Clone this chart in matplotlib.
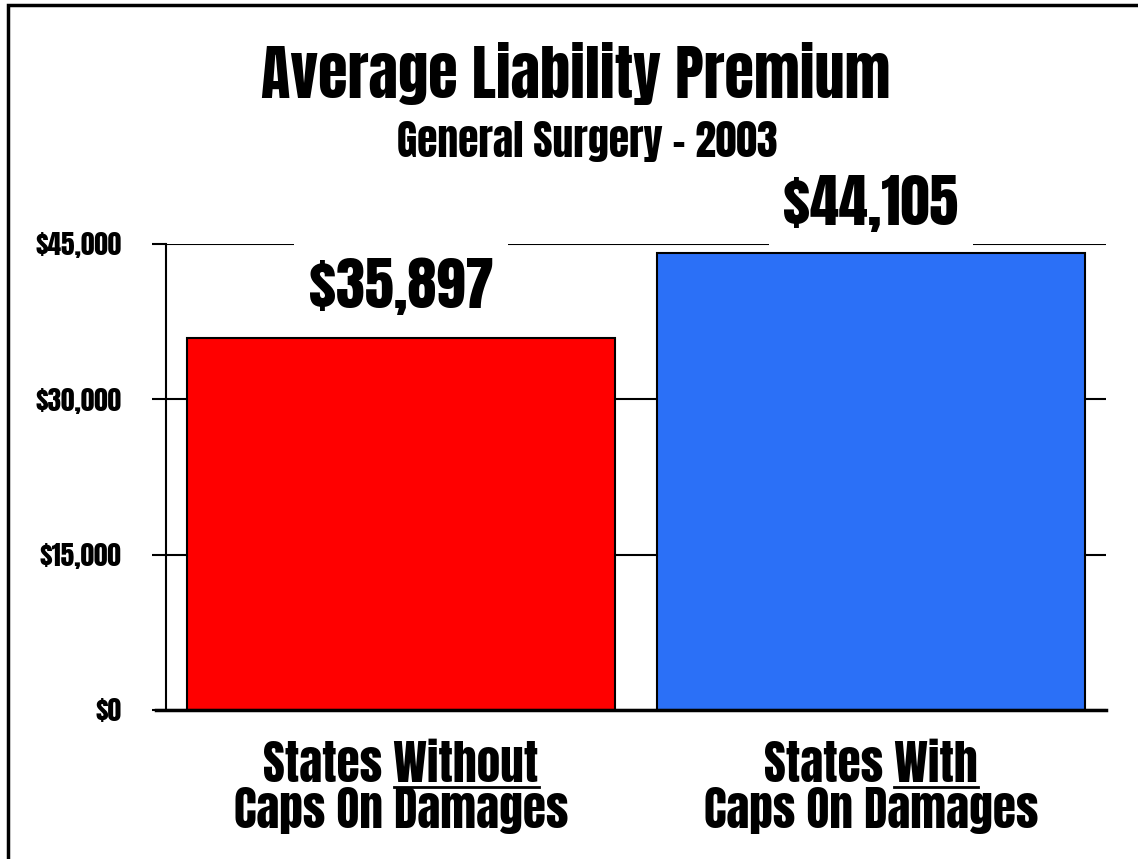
import matplotlib
matplotlib.use("Agg")
import matplotlib.pyplot as plt
from matplotlib.lines import Line2D
from matplotlib.patches import Rectangle
from matplotlib.transforms import blended_transform_factory

# Data
line_one = ["States Without", "States With"]
underlined = ["Without", "With"]
line_two = ["Caps On Damages", "Caps On Damages"]
premiums = [35897, 44105]
bar_colors = ["#ff0000", "#2b70f7"]
y_ticks = [0, 15000, 30000, 45000]
y_tick_labels = ["$0", "$15,000", "$30,000", "$45,000"]

font = ["Anton", "Oswald", "Liberation Sans", "DejaVu Sans"]
W, H = 1138, 859
cat_size = 34

fig = plt.figure(figsize=(W / 100, H / 100), dpi=100)
fig.patch.set_facecolor("white")

# Outer frame (only left and top edges sit inside the canvas)
fig.patches.append(Rectangle((8 / W, -0.2), 1.2, (H - 5) / H + 0.2,
                             transform=fig.transFigure, fill=False,
                             edgecolor="black", linewidth=2.5))

ax = fig.add_axes([166 / W, (H - 710) / H, 940 / W, 466 / H])
x = [0, 1]
ax.bar(x, premiums, width=0.91, color=bar_colors, edgecolor="black",
       linewidth=1.5, zorder=2)
ax.set_xlim(-0.5, 1.5)
ax.set_ylim(0, 45000)
ax.set_yticks(y_ticks, y_tick_labels, fontsize=19.5, family=font)
ax.tick_params(axis="y", length=10, width=1.5, pad=22)
ax.set_xticks([])
ax.yaxis.grid(True, color="black", linewidth=1.5)
ax.set_axisbelow(True)
for side in ["top", "right"]:
    ax.spines[side].set_visible(False)
ax.spines["left"].set_linewidth(1.5)
ax.spines["bottom"].set_linewidth(2.5)
ax.spines["bottom"].set_bounds(-0.5 - 10 / 470, 1.5)
ax.spines["bottom"].set_clip_on(False)

# Value labels on white boxes that cut the top grid line
label_base = [38820, 46835]
for xi, v, ly in zip(x, premiums, label_base):
    ax.text(xi, ly, f"${v:,}", ha="center", va="baseline", fontsize=42,
            family=font, zorder=1.5, clip_on=False,
            bbox=dict(boxstyle="square,pad=0.25", facecolor="white",
                      edgecolor="none"))

# Titles
fig.text(576 / W, 1 - 98 / H, "Average Liability Premium", ha="center",
         va="baseline", fontsize=43.5, family=font)
fig.text(587 / W, 1 - 157 / H, "General Surgery - 2003", ha="center",
         va="baseline", fontsize=30, family=font)

# Category labels, with one word underlined on the first line
mixed = blended_transform_factory(ax.transData, fig.transFigure)
first_lines = []
for xi, l1, l2 in zip(x, line_one, line_two):
    t1 = ax.text(xi, 1 - 782 / H, l1, transform=mixed, ha="center",
                 va="baseline", fontsize=cat_size, family=font)
    ax.text(xi, 1 - 828 / H, l2, transform=mixed, ha="center",
            va="baseline", fontsize=cat_size, family=font)
    first_lines.append(t1)

fig.canvas.draw()
renderer = fig.canvas.get_renderer()
for t1, word in zip(first_lines, underlined):
    full = t1.get_window_extent(renderer)
    probe = fig.text(0, 0, word, fontsize=cat_size, family=font)
    w = probe.get_window_extent(renderer).width
    probe.remove()
    x0 = (full.x1 - w) / fig.bbox.width
    x1 = full.x1 / fig.bbox.width
    yline = 1 - 787 / H
    fig.lines.append(Line2D([x0, x1], [yline, yline], transform=fig.transFigure,
                            color="black", linewidth=2))

fig.savefig("out.png", dpi=100, facecolor="white")
